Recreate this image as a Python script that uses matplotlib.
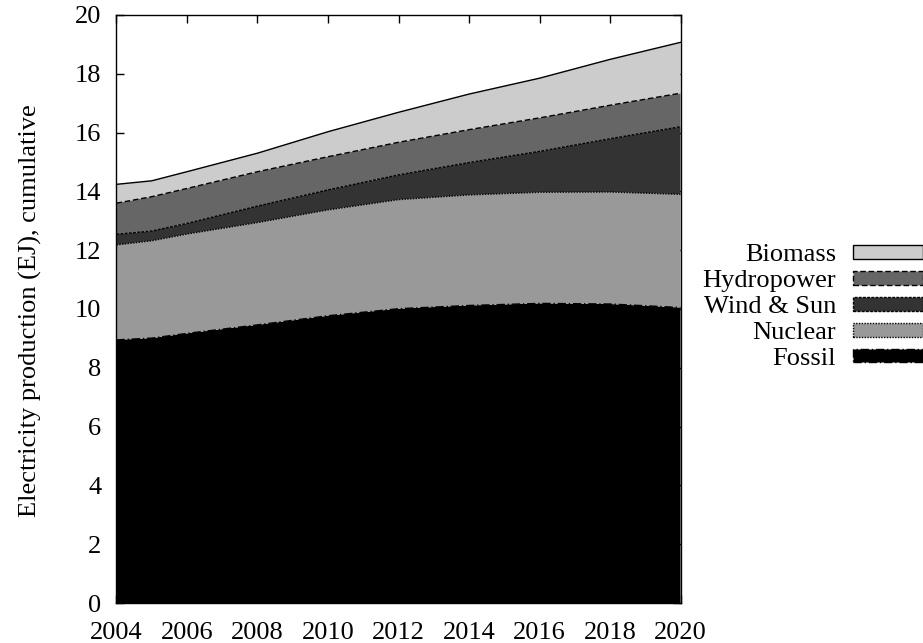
import numpy as np
import matplotlib
matplotlib.use("Agg")
import matplotlib.pyplot as plt
from matplotlib.patches import Patch

years = [2004, 2005, 2006, 2008, 2010, 2012, 2014, 2016, 2018, 2020]
fossil = [8.95, 9.01, 9.17, 9.46, 9.77, 10.01, 10.12, 10.19, 10.17, 10.05]
nuclear = [3.23, 3.31, 3.38, 3.48, 3.60, 3.71, 3.76, 3.78, 3.81, 3.85]
wind_sun = [0.36, 0.33, 0.36, 0.56, 0.68, 0.84, 1.10, 1.39, 1.81, 2.30]
hydropower = [1.06, 1.17, 1.19, 1.17, 1.13, 1.11, 1.12, 1.14, 1.14, 1.14]
biomass = [0.64, 0.54, 0.57, 0.63, 0.85, 1.02, 1.21, 1.35, 1.56, 1.73]

labels = ["Fossil", "Nuclear", "Wind & Sun", "Hydropower", "Biomass"]
colors = ["#000000", "#999999", "#333333", "#666666", "#cccccc"]
styles = [(0, (6, 2, 1, 2)), (0, (1, 1)), (0, (2, 1)), (0, (4, 2)), "-"]

plt.rcParams['font.family'] = ['Liberation Serif', 'DejaVu Serif']
FS = 19
plt.rcParams['font.size'] = FS

fig = plt.figure(figsize=(9.23, 6.43), dpi=100)
ax = fig.add_axes([0.1262, 0.0622, 0.7373 - 0.1262, 0.9767 - 0.0622])

x = np.array(years)
series = [fossil, nuclear, wind_sun, hydropower, biomass]
cum = np.cumsum(np.array(series), axis=0)
bottom = np.zeros(len(years))
handles = []
for i, lab in enumerate(labels):
    top = cum[i]
    ax.fill_between(x, bottom, top, facecolor=colors[i], edgecolor="none", zorder=2 + i * 0.1)
    ax.plot(x, top, color="black", lw=1.0, linestyle=styles[i], zorder=3)
    handles.append(Patch(facecolor=colors[i], edgecolor="black", linestyle=styles[i], linewidth=1.0, label=lab))
    bottom = top

ax.set_xlim(2004, 2020)
ax.set_ylim(0, 20)
ax.set_xticks(range(2004, 2021, 2))
ax.set_yticks(range(0, 21, 2))
ax.tick_params(direction="in", length=6, width=1, top=True, right=True, labelsize=FS)
ax.tick_params(axis="x", pad=13.5)
ax.tick_params(axis="y", pad=11)
for s in ax.spines.values():
    s.set_linewidth(1.0)
    s.set_zorder(5)
ax.set_ylabel("Electricity production (EJ), cumulative", fontsize=FS)
ax.yaxis.set_label_coords(-0.132, 0.498)

leg = fig.legend(handles[::-1], labels[::-1], loc="center right", bbox_to_anchor=(1.0, 0.522),
                 frameon=False, markerfirst=False, handlelength=2.65, handleheight=0.4,
                 labelspacing=0.15, borderpad=0, borderaxespad=0, handletextpad=0.65, fontsize=FS)

fig.savefig("out.png", dpi=100)
